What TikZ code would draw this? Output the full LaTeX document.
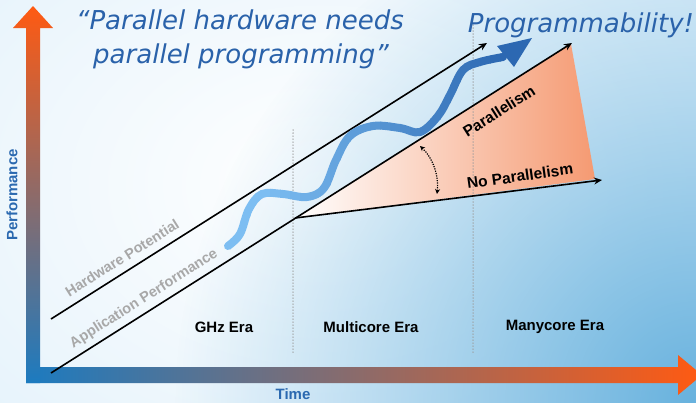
\documentclass[tikz,border=0pt]{standalone}
\usepackage{fontspec}
\setmainfont{Liberation Sans}
\newfontfamily\titlefont{DejaVu Sans}
\usetikzlibrary{arrows.meta,fadings}

\definecolor{bgblue}{HTML}{C9E5F7}
\definecolor{bgdeep}{HTML}{68B2DE}
\definecolor{axblue}{HTML}{1C7BC0}
\definecolor{axmauve}{HTML}{BA6A90}
\definecolor{axorange}{HTML}{FF5A12}
\definecolor{wedgeorange}{HTML}{F59A72}
\definecolor{wavelight}{HTML}{7DBEF2}
\definecolor{wavedark}{HTML}{2C68B2}
\definecolor{titleblue}{HTML}{2A62AA}
\definecolor{axlblue}{HTML}{2B69B0}
\definecolor{labelgray}{HTML}{A8A8A8}
\definecolor{eragray}{HTML}{9C9C9C}

\tikzfading[name=blobfade, inner color=transparent!0, outer color=transparent!100]

\begin{document}
\begin{tikzpicture}[x=1pt,y=-1pt,
  lbl/.style={font=\bfseries\fontsize{15}{18}\selectfont, text=black, inner sep=0pt},
  parlbl/.style={font=\bfseries\fontsize{15.5}{18}\selectfont, text=black, inner sep=0pt},
  glbl/.style={font=\bfseries\fontsize{14.5}{17}\selectfont, text=labelgray, inner sep=0pt},
  axl/.style={font=\bfseries\fontsize{15}{18}\selectfont, text=axlblue, inner sep=0pt},
  ttl/.style={font=\titlefont\itshape\fontsize{26}{30}\selectfont, text=titleblue, inner sep=0pt, anchor=base},
  trend/.style={line width=1.6pt, -{Stealth[length=8pt,width=7pt]}},
  eraline/.style={eragray, line width=1.5pt, dash pattern=on 0pt off 3pt, line cap=round},
  dots/.style={line width=1.2pt, dash pattern=on 1.2pt off 1.2pt}]

\useasboundingbox (0,0) rectangle (696,402);

% background
\begin{scope}
  \clip (0,0) rectangle (696,402);
  \fill[bgblue] (0,0) rectangle (696,402);
  \shade[inner color=white, outer color=bgblue] (320,185) ellipse (1000 and 720);
  \fill[bgdeep, path fading=blobfade] (696,402) circle (520);
\end{scope}

% axes
\begin{scope}
  \clip (0,0) rectangle (696,402);
  \shade[left color=axblue, middle color=axmauve, right color=axorange]
    (26,367) -- (678,367) -- (678,355) -- (702,375) -- (678,395) -- (678,383) -- (26,383) -- cycle;
  \shade[bottom color=axblue, middle color=axmauve, top color=axorange]
    (26,383) -- (26,28) -- (13,28) -- (33,6) -- (53,28) -- (40,28) -- (40,383) -- cycle;
\end{scope}

% key points
\coordinate (hw0) at (51,319);
\coordinate (hw1) at (487,43);
\coordinate (ap0) at (51,373);
\coordinate (ap1) at (572,43);
\coordinate (np0) at (295,218);
\coordinate (np1) at (602,180);
\coordinate (wtop) at (571,44);
\coordinate (wbot) at (595,179);

% wedge
\shade[left color=white, right color=wedgeorange] (np0) -- (wtop) -- (wbot) -- cycle;

% era separators
\coordinate (e1a) at (293,130);
\coordinate (e1b) at (293,353);
\coordinate (e2a) at (473,25);
\coordinate (e2b) at (473,353);
\draw[eraline] (e1a) -- (e1b);
\draw[eraline] (e2a) -- (e2b);

% trend lines
\draw[trend] (hw0) -- (hw1);
\draw[trend] (ap0) -- (ap1);
\draw[trend] (np0) -- (np1);

% dotted double arrow
\coordinate (dA) at (420,146);
\coordinate (dB) at (437,194);
\draw[dots, {Stealth[length=5pt,width=5pt]}-{Stealth[length=5pt,width=5pt]}]
  (dA) .. controls (433,158) and (439,176) .. (dB);

% blue wave, coloured strip by strip from light to dark
\def\wavepath{plot[smooth, tension=0.6] coordinates {(228,246) (240,234) (249,209) (262,194) (283,194) (307,197) (324,188) (336,160) (350,136) (373,126) (400,128) (420,132) (438,116) (450,95) (463,70) (480,62) (503,57)}}
\foreach \i in {0,...,29} {
  \pgfmathsetmacro\xa{220+\i*10}
  \pgfmathsetmacro\xb{\xa+10.6}
  \pgfmathsetmacro\pc{max(0,min(100,(\xa+5-265)/2.35))}
  \begin{scope}
    \clip (\xa,0) rectangle (\xb,402);
    \draw[wavedark!\pc!wavelight, line width=8pt, line cap=round] \wavepath;
  \end{scope}
}
\fill[wavedark] (532,38) -- (497,46) -- (505,56) -- (514,67) -- cycle;

% texts
\node[ttl] (t1) at (240,29) {“Parallel hardware needs};
\node[ttl] (t2) at (241,63) {parallel programming”};
\node[ttl] (prog) at (581,32) {Programmability!};

\node[glbl, rotate=32.3] (hwl) at (122,258) {Hardware Potential};
\node[glbl, rotate=32.3] (apl) at (144,299) {Application Performance};
\node[parlbl, rotate=32.3] (par) at (499,111) {Parallelism};
\node[parlbl, rotate=8] (nop) at (520,176) {No Parallelism};

\node[lbl] (ghz) at (224,327) {GHz Era};
\node[lbl] (multi) at (371,327) {Multicore Era};
\node[lbl] (many) at (555,327) {Manycore Era};

\node[axl, rotate=90] (perf) at (12,195) {Performance};
\node[axl] (time) at (293,394) {Time};
\end{tikzpicture}
\end{document}
